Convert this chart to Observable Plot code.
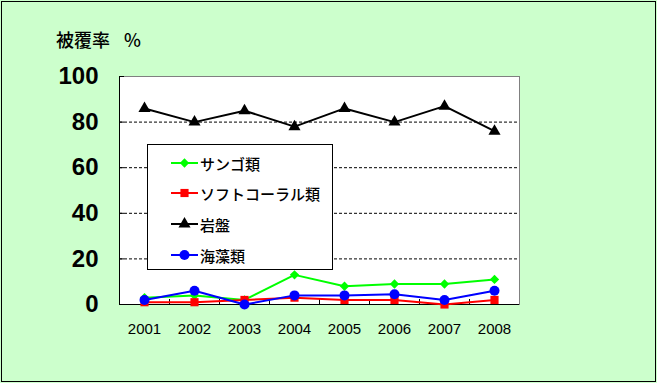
<!DOCTYPE html>
<html><head><meta charset="utf-8">
<script src="https://cdn.jsdelivr.net/npm/d3@7"></script>
<script src="https://cdn.jsdelivr.net/npm/@observablehq/plot@0.6"></script>
<style>
html,body{margin:0;padding:0;background:#CCFFCC;}
#wrap{position:relative;width:657px;height:383px;overflow:hidden;background:#CCFFCC;}
#wrap > svg{position:absolute;left:0;top:0;}
#border{position:absolute;left:1px;top:1px;width:653px;height:379px;border:1px solid #000;pointer-events:none;}
#title{position:absolute;left:56px;top:28px;font-family:"Noto Sans CJK JP";font-size:18px;font-weight:500;line-height:22px;color:#000;white-space:nowrap;}
#title .pct{position:absolute;left:68px;top:0;}
#legend{position:absolute;left:147px;top:144px;width:184px;height:124px;border:1px solid #000;background:#fff;}
.row{position:absolute;left:0;height:22px;display:flex;align-items:center;font-family:"Noto Sans CJK JP";font-size:15px;font-weight:500;color:#000;white-space:nowrap;}
.row svg{display:block;margin-left:23px;margin-right:2px;}
</style></head>
<body>
<div id="wrap">
  <div id="title">被覆率<span class="pct">%</span></div>
</div>
<script>
const years = ["2001","2002","2003","2004","2005","2006","2007","2008"];
const coral     = [3, 4, 2, 13, 8, 9, 9, 11];
const softCoral = [1, 1, 2, 3, 2, 2, 0, 2];
const bedrock   = [86, 80, 85, 78, 86, 80, 87, 76];
const algae     = [2, 6, 0, 4, 4, 4.5, 2, 6];
const yTicks = [0, 20, 40, 60, 80, 100];
const gridTicks = [20, 40, 60, 80];

const seriesNames   = ["サンゴ類", "ソフトコーラル類", "岩盤", "海藻類"];
const seriesValues  = [coral, softCoral, bedrock, algae];
const seriesColors  = ["#00FF00", "#FF0000", "#000000", "#0000FF"];
const seriesSymbols = ["diamond2", "square", "triangle", "circle"];
const seriesR       = [4.2, 4.6, 4.5, 5];

const table = seriesNames.flatMap((name, i) =>
  years.map((year, j) => ({series: name, year, value: seriesValues[i][j]})));

const font = "Liberation Sans, Arial, sans-serif";

const chart = Plot.plot({
  width: 657, height: 383,
  marginLeft: 119, marginRight: 138, marginTop: 76, marginBottom: 79,
  style: {background: "transparent", overflow: "visible"},
  x: {type: "point", domain: years, padding: 0.5},
  y: {domain: [0, 100]},
  marks: [
    Plot.frame({fill: "#fff", stroke: "#808080"}),
    Plot.ruleY(gridTicks, {stroke: "#000", strokeWidth: 1, strokeDasharray: "3,2"}),
    Plot.ruleY([0], {stroke: "#000"}),
    Plot.ruleX([years[0]], {dx: -25, stroke: "#000"}),
    Plot.axisY({ticks: yTicks, tickSize: 0, tickPadding: 21, fontSize: 24, fontWeight: "bold", fontFamily: font, fill: "#000", label: null}),
    Plot.axisY({ticks: yTicks, tickSize: 5, dx: 5, fill: "none", stroke: "#000", label: null}),
    Plot.axisX({tickSize: 0, tickPadding: 19, fontSize: 15, fontFamily: font, fill: "#000", label: null}),
    Plot.axisX({ticks: years.slice(0, -1), tickSize: 5, dx: 25, dy: -5, fill: "none", stroke: "#000", label: null}),
    ...seriesNames.flatMap((name, i) => {
      const d = table.filter(r => r.series === name);
      return [
        Plot.line(d, {x: "year", y: "value", stroke: seriesColors[i], strokeWidth: 2}),
        Plot.dot(d, {x: "year", y: "value", fill: seriesColors[i], stroke: "none", symbol: seriesSymbols[i], r: seriesR[i]})
      ];
    })
  ]
});
const wrap = document.getElementById("wrap");
wrap.insertBefore(chart, wrap.firstChild);

// legend
const legend = document.createElement("div");
legend.id = "legend";
const rowCenters = [18, 48, 79, 110];
const symbolMap = {diamond2: d3.symbolDiamond2, square: d3.symbolSquare, triangle: d3.symbolTriangle, circle: d3.symbolCircle};
seriesNames.forEach((name, i) => {
  const row = document.createElement("div");
  row.className = "row";
  row.style.top = (rowCenters[i] - 11) + "px";
  const path = d3.symbol(symbolMap[seriesSymbols[i]], Math.PI * seriesR[i] * seriesR[i])();
  row.innerHTML = `<svg width="27" height="14" viewBox="0 0 27 14"><line x1="0" x2="27" y1="7" y2="7" stroke="${seriesColors[i]}" stroke-width="2"/><path d="${path}" transform="translate(13.5,7)" fill="${seriesColors[i]}"/></svg><span>${name}</span>`;
  legend.appendChild(row);
});
wrap.appendChild(legend);
const border = document.createElement("div");
border.id = "border";
wrap.appendChild(border);
</script>
</body></html>
